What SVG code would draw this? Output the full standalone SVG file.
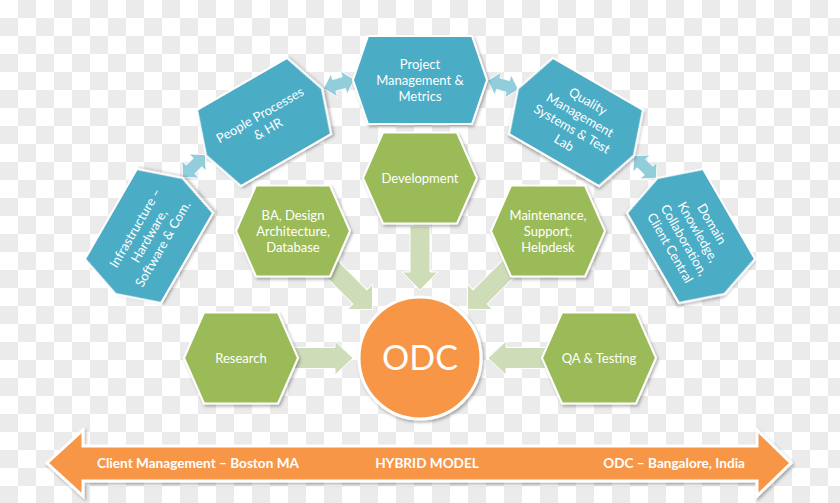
<svg xmlns="http://www.w3.org/2000/svg" width="840" height="503" viewBox="0 0 840 503">
<defs>
<pattern id="checker" width="36" height="36" patternUnits="userSpaceOnUse">
<rect width="36" height="36" fill="#ffffff"/>
<rect x="18" y="0" width="18" height="18" fill="#ebebeb"/>
<rect x="0" y="18" width="18" height="18" fill="#ebebeb"/>
</pattern>
<filter id="shadow" x="-20%" y="-20%" width="140%" height="140%">
<feDropShadow dx="1.5" dy="2" stdDeviation="1.5" flood-color="#000000" flood-opacity="0.3"/>
</filter>
<polygon id="hexB" points="-67,0 -52,-44 52,-44 67,0 52,44 -52,44"/>
<polygon id="hexG" points="-57,0 -37,-45.5 37,-45.5 57,0 37,45.5 -37,45.5"/>
<path id="dbl" d="M-16,0 L-5,-12 L-5,-6 L5,-6 L5,-12 L16,0 L5,12 L5,6 L-5,6 L-5,12 Z"/>
</defs>
<style>
.blue{fill:#4bacc6;stroke:#ffffff;stroke-width:2;filter:url(#shadow)}
.green{fill:#9bbb59;stroke:#ffffff;stroke-width:2;filter:url(#shadow)}
.garrow{fill:#cfdcb8;stroke:#ffffff;stroke-width:1}
.barrow{fill:#92cddc;stroke:#ffffff;stroke-width:0.8}
.t{font-family:Lato,"Open Sans",sans-serif;font-size:13px;fill:#ffffff;text-anchor:middle}
.b{font-family:Lato,"Open Sans",sans-serif;font-size:13.6px;font-weight:bold;fill:#ffffff}
</style>
<rect width="840" height="503" fill="url(#checker)"/>

<g id="connectors">
<path class="garrow" transform="translate(420,226) rotate(90)" d="M0,-10 L46,-10 L46,-18 L64,0 L46,18 L46,10 L0,10 Z"/>
<path class="garrow" transform="translate(316,253) rotate(45)" d="M0,-10 L62,-10 L62,-18 L80,0 L62,18 L62,10 L0,10 Z"/>
<path class="garrow" transform="translate(524,253) rotate(135)" d="M0,-10 L62,-10 L62,-18 L80,0 L62,18 L62,10 L0,10 Z"/>
<path class="garrow" transform="translate(283,358)" d="M0,-10.5 L52,-10.5 L52,-17 L70,0 L52,17 L52,10.5 L0,10.5 Z"/>
<path class="garrow" transform="translate(557,358) rotate(180)" d="M0,-10.5 L51,-10.5 L51,-17 L69,0 L51,17 L51,10.5 L0,10.5 Z"/>
<use href="#dbl" class="barrow" transform="translate(194,166) rotate(-45)"/>
<use href="#dbl" class="barrow" transform="translate(339,84) rotate(-16)"/>
<use href="#dbl" class="barrow" transform="translate(503,85) rotate(16)"/>
<use href="#dbl" class="barrow" transform="translate(645,167) rotate(45)"/>
</g>

<g id="project">
<use href="#hexB" class="blue" transform="translate(420,80)"/>
<text class="t" x="420" y="68.5">Project</text>
<text class="t" x="420" y="84.5">Management &amp;</text>
<text class="t" x="420" y="100.5">Metrics</text>
</g>

<g id="people" transform="translate(264,122) rotate(-30)">
<use href="#hexB" class="blue"/>
<text class="t" x="0" y="-3.5">People Processes</text>
<text class="t" x="0" y="12.5">&amp; HR</text>
</g>

<g id="infrastructure" transform="translate(149,236) rotate(-60)">
<use href="#hexB" class="blue"/>
<text class="t" x="0" y="-11.5">Infrastructure –</text>
<text class="t" x="0" y="4.5">Hardware,</text>
<text class="t" x="0" y="20.5">Software &amp; Com.</text>
</g>

<g id="quality" transform="translate(576,122) rotate(30)">
<use href="#hexB" class="blue"/>
<text class="t" x="0" y="-19.5">Quality</text>
<text class="t" x="0" y="-3.5">Management</text>
<text class="t" x="0" y="12.5">Systems &amp; Test</text>
<text class="t" x="0" y="28.5">Lab</text>
</g>

<g id="domain" transform="translate(691,236) rotate(60)">
<use href="#hexB" class="blue"/>
<text class="t" x="0" y="-19.5">Domain</text>
<text class="t" x="0" y="-3.5">Knowledge,</text>
<text class="t" x="0" y="12.5">Collaboration,</text>
<text class="t" x="0" y="28.5">Client Central</text>
</g>

<g id="development">
<use href="#hexG" class="green" transform="translate(420,178)"/>
<text class="t" x="420" y="182.5">Development</text>
</g>

<g id="ba-design">
<use href="#hexG" class="green" transform="translate(293,231)"/>
<text class="t" x="293" y="219.5">BA, Design</text>
<text class="t" x="293" y="235.5">Architecture,</text>
<text class="t" x="293" y="251.5">Database</text>
</g>

<g id="maintenance">
<use href="#hexG" class="green" transform="translate(548,231)"/>
<text class="t" x="548" y="219.5">Maintenance,</text>
<text class="t" x="548" y="235.5">Support,</text>
<text class="t" x="548" y="251.5">Helpdesk</text>
</g>

<g id="research">
<use href="#hexG" class="green" transform="translate(241,358)"/>
<text class="t" x="241" y="362.5">Research</text>
</g>

<g id="qa-testing">
<use href="#hexG" class="green" transform="translate(599,358)"/>
<text class="t" x="599" y="362.5">QA &amp; Testing</text>
</g>

<g id="odc">
<circle cx="420" cy="358" r="61" fill="#f79646" stroke="#ffffff" stroke-width="3" filter="url(#shadow)"/>
<text x="420" y="370" font-family="Lato, 'Open Sans', sans-serif" font-size="34" fill="#ffffff" text-anchor="middle">ODC</text>
</g>

<g id="hybrid-model">
<path d="M47,463 L83,430 L83,446 L757,446 L757,430 L791,463 L757,496 L757,481 L83,481 L83,496 Z" fill="#f79646" stroke="#ffffff" stroke-width="3" filter="url(#shadow)"/>
<text class="b" x="97" y="468">Client Management – Boston MA</text>
<text class="b" x="427" y="468" text-anchor="middle">HYBRID MODEL</text>
<text class="b" x="745" y="468" text-anchor="end">ODC – Bangalore, India</text>
</g>
</svg>
